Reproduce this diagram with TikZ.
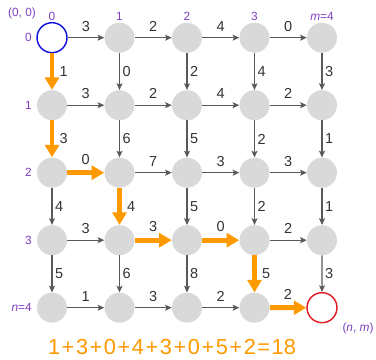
\documentclass[tikz,border=0pt]{standalone}
\usepackage{fontspec}
\setmainfont{Liberation Sans}
\usetikzlibrary{arrows.meta}

\definecolor{cellgray}{HTML}{D9D9D9}
\definecolor{edgegray}{HTML}{595959}
\definecolor{pathorange}{HTML}{FF9900}
\definecolor{idxpurple}{RGB}{128,64,192}
\definecolor{startblue}{RGB}{20,20,220}
\definecolor{goalred}{RGB}{225,30,40}
\newcommand{\pls}{\kern1.2pt+\kern1.2pt}

\begin{document}
\begin{tikzpicture}[
    cell/.style={circle, fill=cellgray, minimum size=0.8cm, inner sep=0pt},
    start/.style={cell, fill=white, draw=startblue, line width=1.1pt},
    goal/.style={cell, fill=white, draw=goalred, line width=1.1pt},
    edge/.style={edgegray, line width=0.9pt, -{Stealth[length=5pt, width=4.5pt, inset=1pt]}},
    best/.style={pathorange, line width=3.7pt, -{Triangle[length=9.5pt, width=10.5pt]}},
    wt/.style={font=\fontsize{11}{13}\selectfont, text=black!80, inner sep=2pt},
    idx/.style={font=\fontsize{9}{11}\selectfont, text=idxpurple, inner sep=1pt}
  ]
  \useasboundingbox (-1.387,1.005) rectangle (8.64,-8.595);

  % grid points
  \foreach \i in {0,...,4}
    \foreach \j in {0,...,4}
      \node[cell] (p\i\j) at (1.8*\j,-1.8*\i) {};
  \node[start] (p00) at (0,0) {};
  \node[goal]  (p44) at (7.2,-7.2) {};

  % horizontal steps
  \foreach \a/\b/\w in {p00/p01/3, p01/p02/2, p02/p03/4, p03/p04/0,
                        p10/p11/3, p11/p12/2, p12/p13/4, p13/p14/2,
                        p21/p22/7, p22/p23/3, p23/p24/3,
                        p30/p31/3, p33/p34/2,
                        p40/p41/1, p41/p42/3, p42/p43/2}
    \draw[edge] (\a) -- node[wt, above=2.5pt] {\w} (\b);
  \foreach \a/\b/\w in {p20/p21/0, p31/p32/3, p32/p33/0, p43/p44/2}
    \draw[best] (\a) -- node[wt, above=2.5pt] {\w} (\b);

  % vertical steps
  \foreach \a/\b/\w in {p01/p11/0, p02/p12/2, p03/p13/4, p04/p14/3,
                        p11/p21/6, p12/p22/5, p13/p23/2, p14/p24/1,
                        p20/p30/4, p22/p32/5, p23/p33/2, p24/p34/1,
                        p30/p40/5, p31/p41/6, p32/p42/8, p34/p44/3}
    \draw[edge] (\a) -- node[wt, right=0pt] {\w} (\b);
  \foreach \a/\b/\w in {p00/p10/1, p10/p20/3, p21/p31/4, p33/p43/5}
    \draw[best] (\a) -- node[wt, right=2pt] {\w} (\b);

  % indices
  \node[idx] (origin) at (-0.8,0.66) {(0, 0)};
  \foreach \j in {0,...,3}
    \node[idx] (c\j) at (1.8*\j,0.58) {\j};
  \node[idx] (c4) at (7.2,0.58) {\textit{m}=4};
  \foreach \i in {0,...,3}
    \node[idx, anchor=east] (r\i) at (-0.5,-1.8*\i) {\i};
  \node[idx, anchor=east] (r4) at (-0.5,-7.2) {\textit{n}=4};
  \node[idx] (corner) at (8.16,-7.74) {(\textit{n}, \textit{m})};

  % path length
  \node[font=\fontsize{16.5}{19}\selectfont, text=pathorange] (total) at (3.2,-8.25)
    {1\pls3\pls0\pls4\pls3\pls0\pls5\pls2\kern1.2pt=\kern1.2pt18};
\end{tikzpicture}
\end{document}
